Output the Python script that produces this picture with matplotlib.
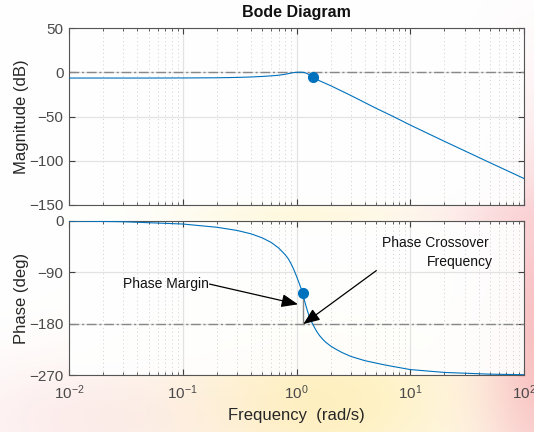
import numpy as np
import matplotlib
matplotlib.use("Agg")
import matplotlib.pyplot as plt
from matplotlib.ticker import LogLocator, NullFormatter, FixedLocator

plt.rcParams['font.family'] = ['Liberation Sans', 'DejaVu Sans']

# ---- data ----
freq_mag = [0.01, 0.05, 0.1, 0.2, 0.3, 0.4, 0.5, 0.6, 0.7, 0.8, 0.9, 0.95, 1.0, 1.05,
            1.1, 1.15, 1.2, 1.3, 1.41, 1.6, 2.0, 3.0, 5.0, 7.0, 10.0, 20.0, 50.0, 100.0]
mag_db = [-6.3, -6.3, -6.2, -6.0, -5.6, -5.1, -4.5, -3.8, -3.1, -2.0, -0.6, -0.1, 0.2, 0.3,
          0.3, 0.1, -0.5, -2.5, -5.2, -9.5, -15.0, -26.0, -40.5, -49.5, -59.5, -78.0, -102.0, -120.0]

freq_ph = [0.01, 0.03, 0.1, 0.2, 0.3, 0.4, 0.5, 0.6, 0.7, 0.8, 0.85, 0.9, 0.95, 1.0, 1.05,
           1.1, 1.13, 1.2, 1.25, 1.3, 1.35, 1.4, 1.5, 1.6, 1.7, 1.8, 2.0, 2.2, 2.5, 3.0,
           4.0, 6.0, 10.0, 20.0, 50.0, 100.0]
phase_deg = [-0.6, -1.8, -5.8, -11.5, -17.0, -23.0, -30.0, -38.0, -48.0, -60.0, -67.0, -76.0,
             -86.0, -97.0, -108.0, -119.0, -126.0, -146.0, -158.0, -168.0, -176.0, -182.0,
             -193.0, -201.0, -207.0, -212.0, -219.0, -224.0, -230.0, -237.0,
             -244.5, -252.0, -260.0, -265.0, -268.0, -269.0]

gm_freq, gm_db = 1.41, -5.2          # phase crossover point (magnitude marker)
pm_freq, pm_deg = 1.13, -126.0       # gain crossover point (phase marker)

mag_ticks = [-150, -100, -50, 0, 50]
phase_ticks = [-270, -180, -90, 0]

blue = '#0072BD'
ref_grey = '#888888'

fig = plt.figure(figsize=(5.34, 4.32), dpi=100)
W, H = 534.0, 432.0

# faint decorative background (watermark-like colour wash seen in the reference)
bg = fig.add_axes([0, 0, 1, 1], zorder=-10)
bg.axis('off')
yy, xx = np.mgrid[0:432, 0:534].astype(float)
img = np.ones((432, 534, 3))
blobs = [((330, 400, 110, 70), (1.0, 0.90, 0.55), 0.55),
         ((545, 330, 45, 130), (0.95, 0.55, 0.58), 0.55),
         ((90, 420, 110, 45), (0.97, 0.80, 0.80), 0.35),
         ((300, 214, 90, 12), (1.0, 0.93, 0.65), 0.35),
         ((500, 214, 60, 14), (0.98, 0.78, 0.80), 0.35)]
for (cx, cy, sx, sy), col, s in blobs:
    w = s * np.exp(-0.5 * (((xx - cx) / sx) ** 2 + ((yy - cy) / sy) ** 2))
    for c in range(3):
        img[:, :, c] = img[:, :, c] * (1 - w) + col[c] * w
bg.imshow(img, extent=[0, 1, 0, 1], aspect='auto', origin='upper')
bg.set_xlim(0, 1)
bg.set_ylim(0, 1)

ax1 = fig.add_axes([69 / W, 1 - 205 / H, 455 / W, (205 - 28.3) / H])
ax2 = fig.add_axes([69 / W, 1 - 375.3 / H, 455 / W, (375.3 - 220.7) / H])

for ax in (ax1, ax2):
    ax.set_facecolor((1, 1, 1, 0.9))
    ax.set_xscale('log')
    ax.set_xlim(0.01, 100)
    ax.xaxis.set_major_locator(LogLocator(base=10, numticks=10))
    ax.xaxis.set_minor_locator(LogLocator(base=10, subs=np.arange(2, 10), numticks=100))
    ax.xaxis.set_minor_formatter(NullFormatter())
    ax.tick_params(which='both', direction='in', top=True, right=True,
                   colors='#404040', labelcolor='#4a4a4a', labelsize=11)
    ax.tick_params(which='major', length=4, width=0.8)
    ax.tick_params(which='minor', length=2.5, width=0.6)
    ax.tick_params(axis='y', pad=4)
    ax.tick_params(axis='x', pad=6)
    ax.grid(which='major', color='#e3e3e3', linewidth=0.9, linestyle='-')
    ax.grid(which='minor', axis='x', color='#d0d0d0', linewidth=0.7, linestyle=(0, (1, 3)))
    ax.set_axisbelow(True)
    for s in ax.spines.values():
        s.set_color('#555555')
        s.set_linewidth(0.8)

# magnitude
ax1.set_ylim(-150, 50)
ax1.yaxis.set_major_locator(FixedLocator(mag_ticks))
ax1.axhline(0, color=ref_grey, linewidth=1.0, linestyle='-.', dashes=(7, 2, 1.5, 2), zorder=2)
ax1.plot([gm_freq, gm_freq], [0, gm_db], color=ref_grey, linewidth=1.0, zorder=2)
ax1.plot(freq_mag, mag_db, color=blue, linewidth=0.8, zorder=3)
ax1.plot([gm_freq], [gm_db], 'o', color=blue, markersize=7, zorder=4)
ax1.tick_params(axis='x', labelbottom=False)
ax1.set_ylabel('Magnitude (dB)', fontsize=12, color='#262626')
ax1.yaxis.set_label_coords(-0.088, 0.5)
ax1.set_title('Bode Diagram', fontsize=11.5, fontweight='bold', color='#111111', pad=8)

# phase
ax2.set_ylim(-270, 0)
ax2.yaxis.set_major_locator(FixedLocator(phase_ticks))
ax2.axhline(-180, color=ref_grey, linewidth=1.0, linestyle='-.', dashes=(7, 2, 1.5, 2), zorder=2)
ax2.plot([pm_freq, pm_freq], [-180, pm_deg], color=ref_grey, linewidth=1.0, zorder=2)
ax2.plot(freq_ph, phase_deg, color=blue, linewidth=0.8, zorder=3)
ax2.plot([pm_freq], [pm_deg], 'o', color=blue, markersize=7, zorder=4)
ax2.set_ylabel('Phase (deg)', fontsize=12, color='#262626')
ax2.yaxis.set_label_coords(-0.088, 0.5)
ax2.set_xlabel('Frequency  (rad/s)', fontsize=12, color='#262626')

arrow_kw = dict(arrowstyle='-|>,head_length=1.0,head_width=0.4', color='black',
                lw=0.9, shrinkA=0, shrinkB=0)
ax2.text(0.0299, -110.7, 'Phase Margin', fontsize=10, ha='left', va='center', color='#111111')
ax2.annotate('', xy=(1.03, -146), xytext=(0.172, -110.7), arrowprops=arrow_kw, zorder=5)
ax2.text(5.70, -39.7, 'Phase Crossover', fontsize=10, ha='left', va='center', color='#111111')
ax2.text(53.3, -72.2, 'Frequency', fontsize=10, ha='right', va='center', color='#111111')
ax2.annotate('', xy=(1.148, -180.6), xytext=(5.03, -87.2), arrowprops=arrow_kw, zorder=5)

fig.savefig('out.png', dpi=100)
